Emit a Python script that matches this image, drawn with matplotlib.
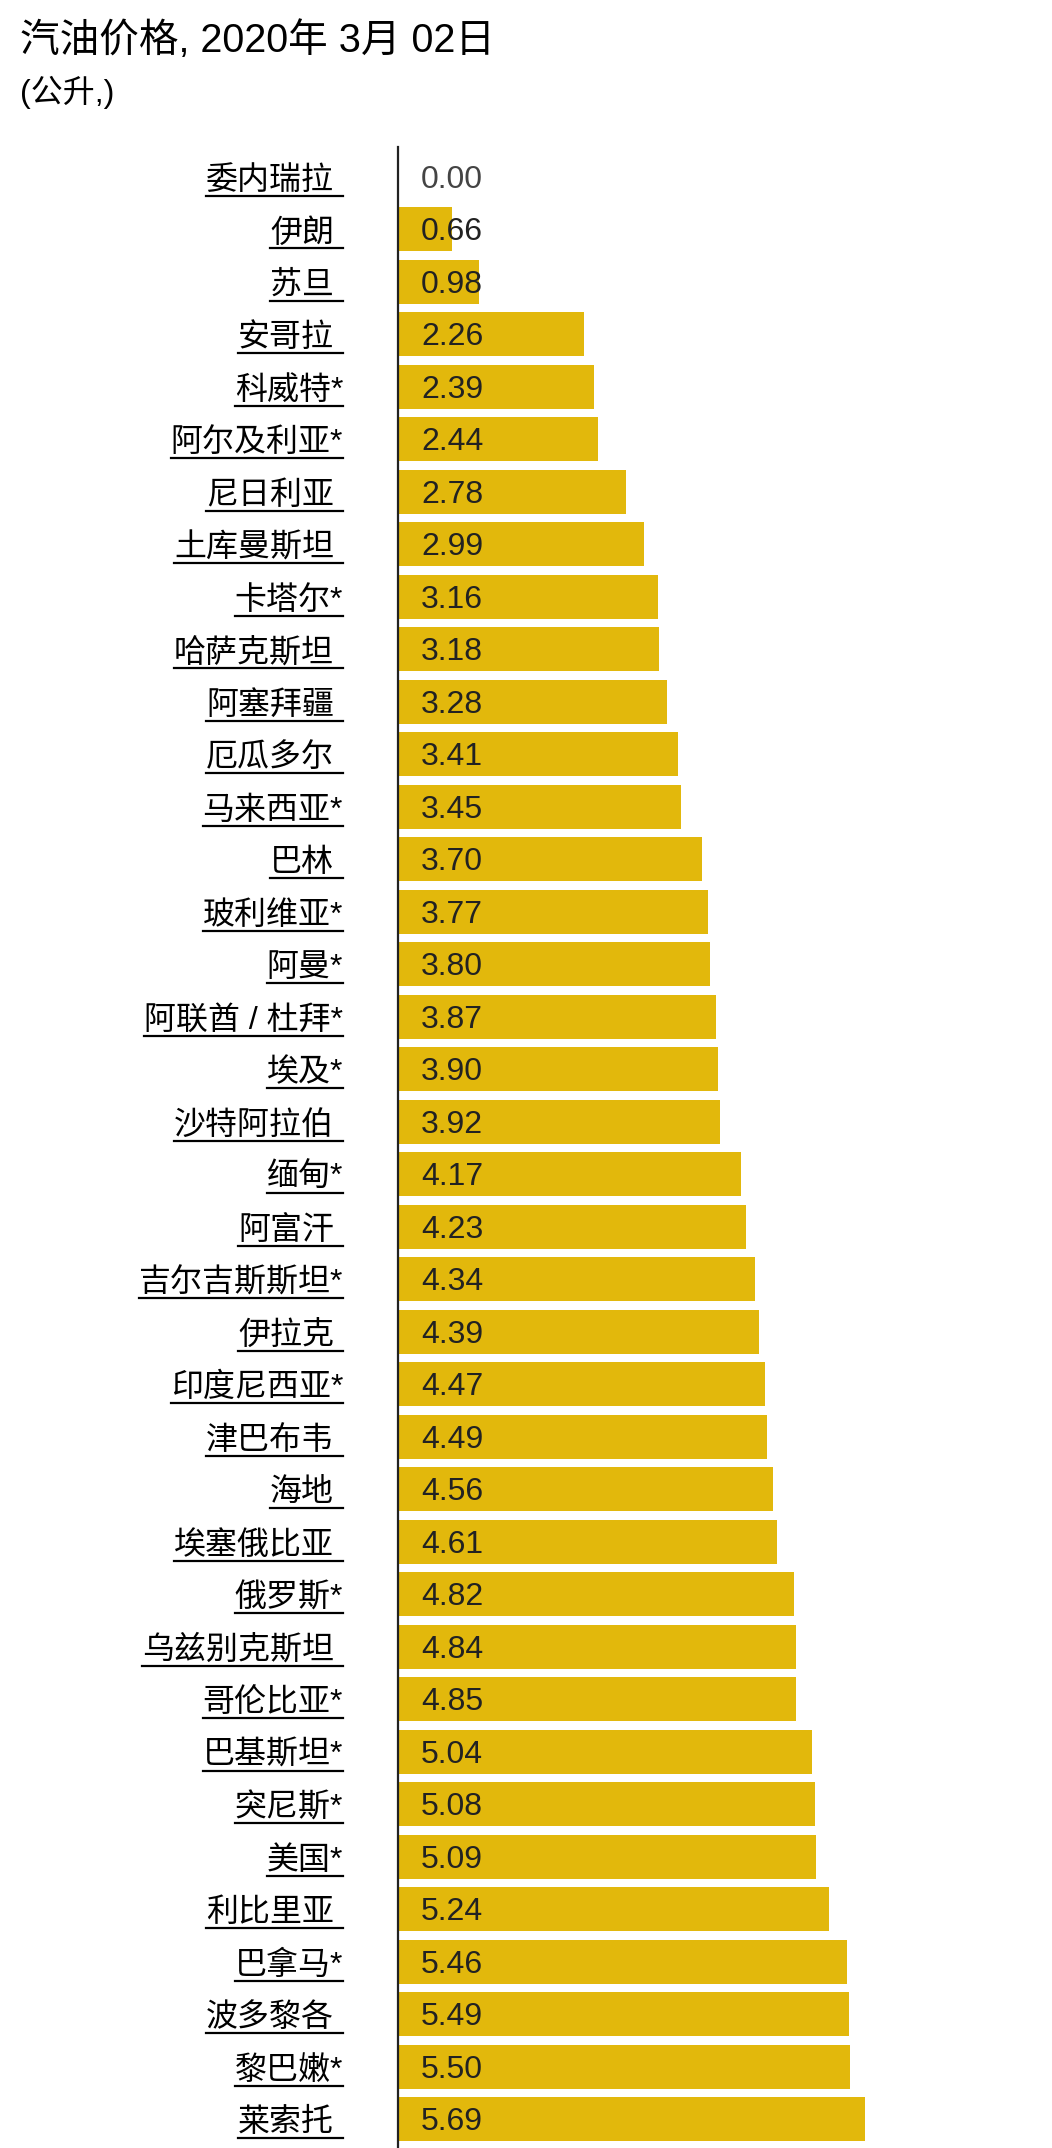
import matplotlib
matplotlib.use('Agg')
import matplotlib.pyplot as plt
from matplotlib.lines import Line2D
from matplotlib.transforms import ScaledTranslation

plt.rcParams['font.family'] = ['Liberation Sans', 'Noto Sans CJK SC']

countries = ['委内瑞拉', '伊朗', '苏旦', '安哥拉', '科威特', '阿尔及利亚', '尼日利亚',
             '土库曼斯坦', '卡塔尔', '哈萨克斯坦', '阿塞拜疆', '厄瓜多尔', '马来西亚',
             '巴林', '玻利维亚', '阿曼', '阿联酋 / 杜拜', '埃及', '沙特阿拉伯', '缅甸',
             '阿富汗', '吉尔吉斯斯坦', '伊拉克', '印度尼西亚', '津巴布韦', '海地',
             '埃塞俄比亚', '俄罗斯', '乌兹别克斯坦', '哥伦比亚', '巴基斯坦', '突尼斯',
             '美国', '利比里亚', '巴拿马', '波多黎各', '黎巴嫩', '莱索托']
starred = [False, False, False, False, True, True, False,
           False, True, False, False, False, True,
           False, True, True, True, True, False, True,
           False, True, False, True, False, False,
           False, True, False, True, True, True,
           True, False, True, False, True, False]
prices = [0.00, 0.66, 0.98, 2.26, 2.39, 2.44, 2.78,
          2.99, 3.16, 3.18, 3.28, 3.41, 3.45,
          3.70, 3.77, 3.80, 3.87, 3.90, 3.92, 4.17,
          4.23, 4.34, 4.39, 4.47, 4.49, 4.56,
          4.61, 4.82, 4.84, 4.85, 5.04, 5.08,
          5.09, 5.24, 5.46, 5.49, 5.50, 5.69]

W, H = 1052, 2148
fig = plt.figure(figsize=(W / 100, H / 100), dpi=100)

fig.text(20 / W, 1 - 41 / H, '汽油价格, 2020年 3月 02日', fontsize=28.5, va='center', ha='left')
fig.text(20 / W, 1 - 92 / H, '(公升,)', fontsize=23, va='center', ha='left')

ax_left = 398
ax = fig.add_axes([ax_left / W, 0, 1 - ax_left / W, (H - 147) / H])
n = len(countries)
ypos = list(range(n))
ax.barh(ypos, prices, height=0.84, color='#E2B80C')
ax.set_xlim(0, 7.96)
ax.set_ylim(n - 1 + 0.55, -0.57)
for s in ['top', 'right', 'bottom']:
    ax.spines[s].set_visible(False)
ax.spines['left'].set_color('#222222')
ax.spines['left'].set_linewidth(1.6)
ax.set_xticks([])
ax.set_yticks([])

# value labels, a fixed offset right of the axis
val_tr = ax.transData + ScaledTranslation(23 / 100, -3 / 100, fig.dpi_scale_trans)
for i, v in enumerate(prices):
    ax.text(0, i, f'{v:.2f}', transform=val_tr, fontsize=23, va='center', ha='left',
            color='#222222' if v > 0 else '#444444')

# country labels, right aligned, underlined up to a fixed right edge
label_right = 343
labels = []
for i, name in enumerate(countries):
    txt = name + ('*' if starred[i] else '')
    pad = 0 if starred[i] else 9 / 100
    tr = ax.transData + ScaledTranslation((label_right - ax_left) / 100 - pad, -4 / 100,
                                          fig.dpi_scale_trans)
    t = ax.text(0, i, txt, transform=tr, fontsize=23, va='center', ha='right', color='black')
    labels.append(t)

fig.canvas.draw()
renderer = fig.canvas.get_renderer()
for i, t in enumerate(labels):
    bb = t.get_window_extent(renderer)
    yc = ax.transData.transform((0, i))[1]
    yl = yc - 19
    fig.add_artist(Line2D([bb.x0 / W, label_right / W], [yl / H, yl / H],
                          transform=fig.transFigure, color='black', lw=1.6))

fig.savefig('out.png', dpi=100, facecolor='white')
